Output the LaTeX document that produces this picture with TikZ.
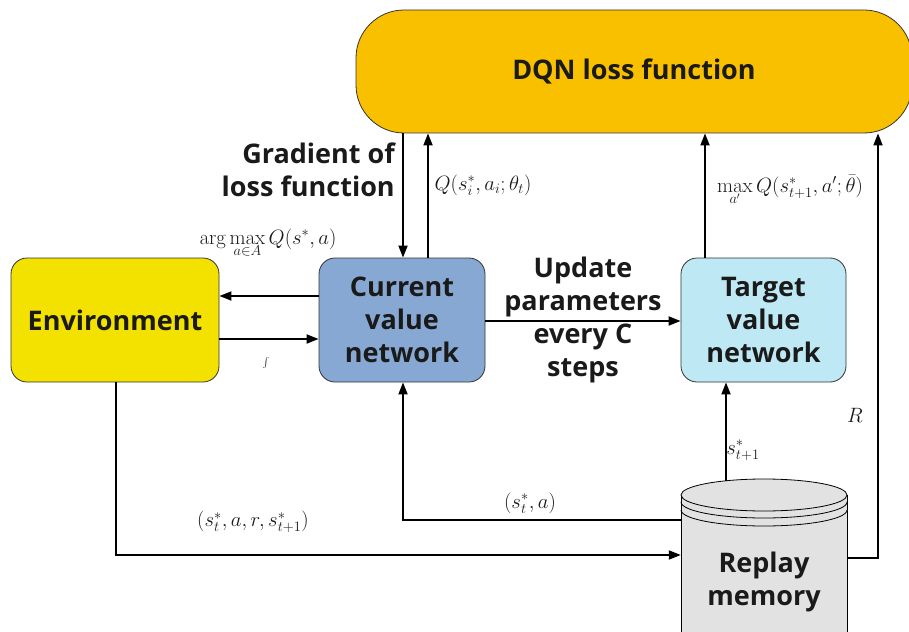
\documentclass[tikz,border=0pt]{standalone}
\usepackage[no-math]{fontspec}
\setmainfont{Open Sans}
\usetikzlibrary{arrows.meta,calc}
\definecolor{envyellow}{HTML}{F3E100}
\definecolor{curblue}{HTML}{87A8D3}
\definecolor{tgtblue}{HTML}{BDE8F4}
\definecolor{dqnorange}{HTML}{F9C000}
\definecolor{cylgray}{HTML}{E2E2E2}
\definecolor{ink}{HTML}{1A1A1A}
\begin{document}
\begin{tikzpicture}[x=1pt,y=-1pt,
  box/.style={draw=black!80, line width=0.8pt, rounded corners=16pt, inner sep=0pt,
    font=\fontsize{27}{33}\selectfont\bfseries, align=center, text=ink},
  conn/.style={line width=1.8pt, -{Triangle[length=12pt,width=9pt]}},
  lbl/.style={font=\fontsize{20}{24}\selectfont, inner sep=0pt, text=ink},
  boldlbl/.style={font=\fontsize{27}{33}\selectfont\bfseries, inner sep=0pt, text=ink}]
\useasboundingbox (0,0) rectangle (909,631);
\clip (0,0) rectangle (909,631);

% boxes
\node[box, fill=dqnorange, rounded corners=48pt, minimum width=556pt, minimum height=123pt] (dqn) at (634,71.5) {DQN loss function};
\node[box, fill=envyellow, minimum width=208pt, minimum height=124pt] (env) at (115,320) {Environment};
\node[box, fill=curblue, minimum width=166pt, minimum height=124pt] (cur) at (402,320) {Current\\value\\network};
\node[box, fill=tgtblue, minimum width=165pt, minimum height=124pt] (tgt) at (763.5,320) {Target\\value\\network};

% cylinder (replay memory)
\fill[cylgray] (681,495) rectangle (847,650);
\draw[line width=0.8pt] (681,495) -- (681,650);
\draw[line width=0.8pt] (847,495) -- (847,650);
\draw[line width=0.8pt, fill=cylgray] (764,495) ellipse [x radius=83, y radius=16];
\draw[line width=0.8pt] plot[domain=180:360, smooth, samples=40] ({764+83*cos(\x)},{502-16*sin(\x)});
\draw[line width=0.8pt] plot[domain=180:360, smooth, samples=40] ({764+83*cos(\x)},{510-16*sin(\x)});
\node[boldlbl, align=center, minimum width=166pt, minimum height=120pt] (rm) at (764,582) {Replay\\memory};

% helper coordinates
\coordinate (xa) at (403,0);
\coordinate (xb) at (428,0);
\coordinate (xc) at (705,0);
\coordinate (xd) at (726,0);
\coordinate (xe) at (878,0);
\coordinate (xf) at (116,0);
\coordinate (ya) at (0,296);
\coordinate (yb) at (0,339);
\coordinate (yc) at (0,321);
\coordinate (yd) at (0,555);
\coordinate (ye) at (0,520);
\coordinate (yf) at (0,558);
\coordinate (rmtop) at (726,481);

% connectors
\draw[conn] (dqn.south -| xa) -- (cur.north -| xa);
\draw[conn] (cur.north -| xb) -- (dqn.south -| xb);
\draw[conn] (tgt.north -| xc) -- (dqn.south -| xc);
\draw[conn] (cur.west |- ya) -- (env.east |- ya);
\draw[conn] (env.east |- yb) -- (cur.west |- yb);
\draw[conn] (cur.east |- yc) -- (tgt.west |- yc);
\draw[conn] (env.south -| xf) -- (xf |- yd) -- (rm.west |- yd);
\draw[conn] (rm.west |- ye) -- (xa |- ye) -- (cur.south -| xa);
\draw[conn] (rmtop) -- (tgt.south -| xd);
\draw[conn] (rm.east |- yf) -- (xe |- yf) -- (dqn.south -| xe);

% labels
\node[boldlbl, anchor=east, align=right] (grad) at (395,170) {Gradient of\\loss function};
\node[lbl] (qcur) at (483,185) {$Q\Bigl(s_i^{*},a_i;\theta_t\Bigr)$};
\node[lbl] (argm) at (268,243) {$\arg\max\limits_{a\in A} Q\Bigl(s^{*},a\Bigr)$};
\node[lbl] (qtgt) at (790,190) {$\max\limits_{a'} Q\Bigl(s_{t+1}^{*},a';\bar\theta\Bigr)$};
\node[boldlbl, align=center] (upd) at (583,320) {Update\\parameters\\every C\\steps};
\node[lbl] (tup) at (253,522) {$\Bigl(s_t^{*},a,r,s_{t+1}^{*}\Bigr)$};
\node[lbl] (sa) at (530,503) {$(s_t^{*},a)$};
\node[lbl] (snext) at (743,450) {$s_{t+1}^{*}$};
\node[lbl] (rlab) at (855,415) {$R$};
\node[lbl, font=\fontsize{7}{7}\selectfont] (mark) at (266,363) {$\int$};
\end{tikzpicture}
\end{document}
